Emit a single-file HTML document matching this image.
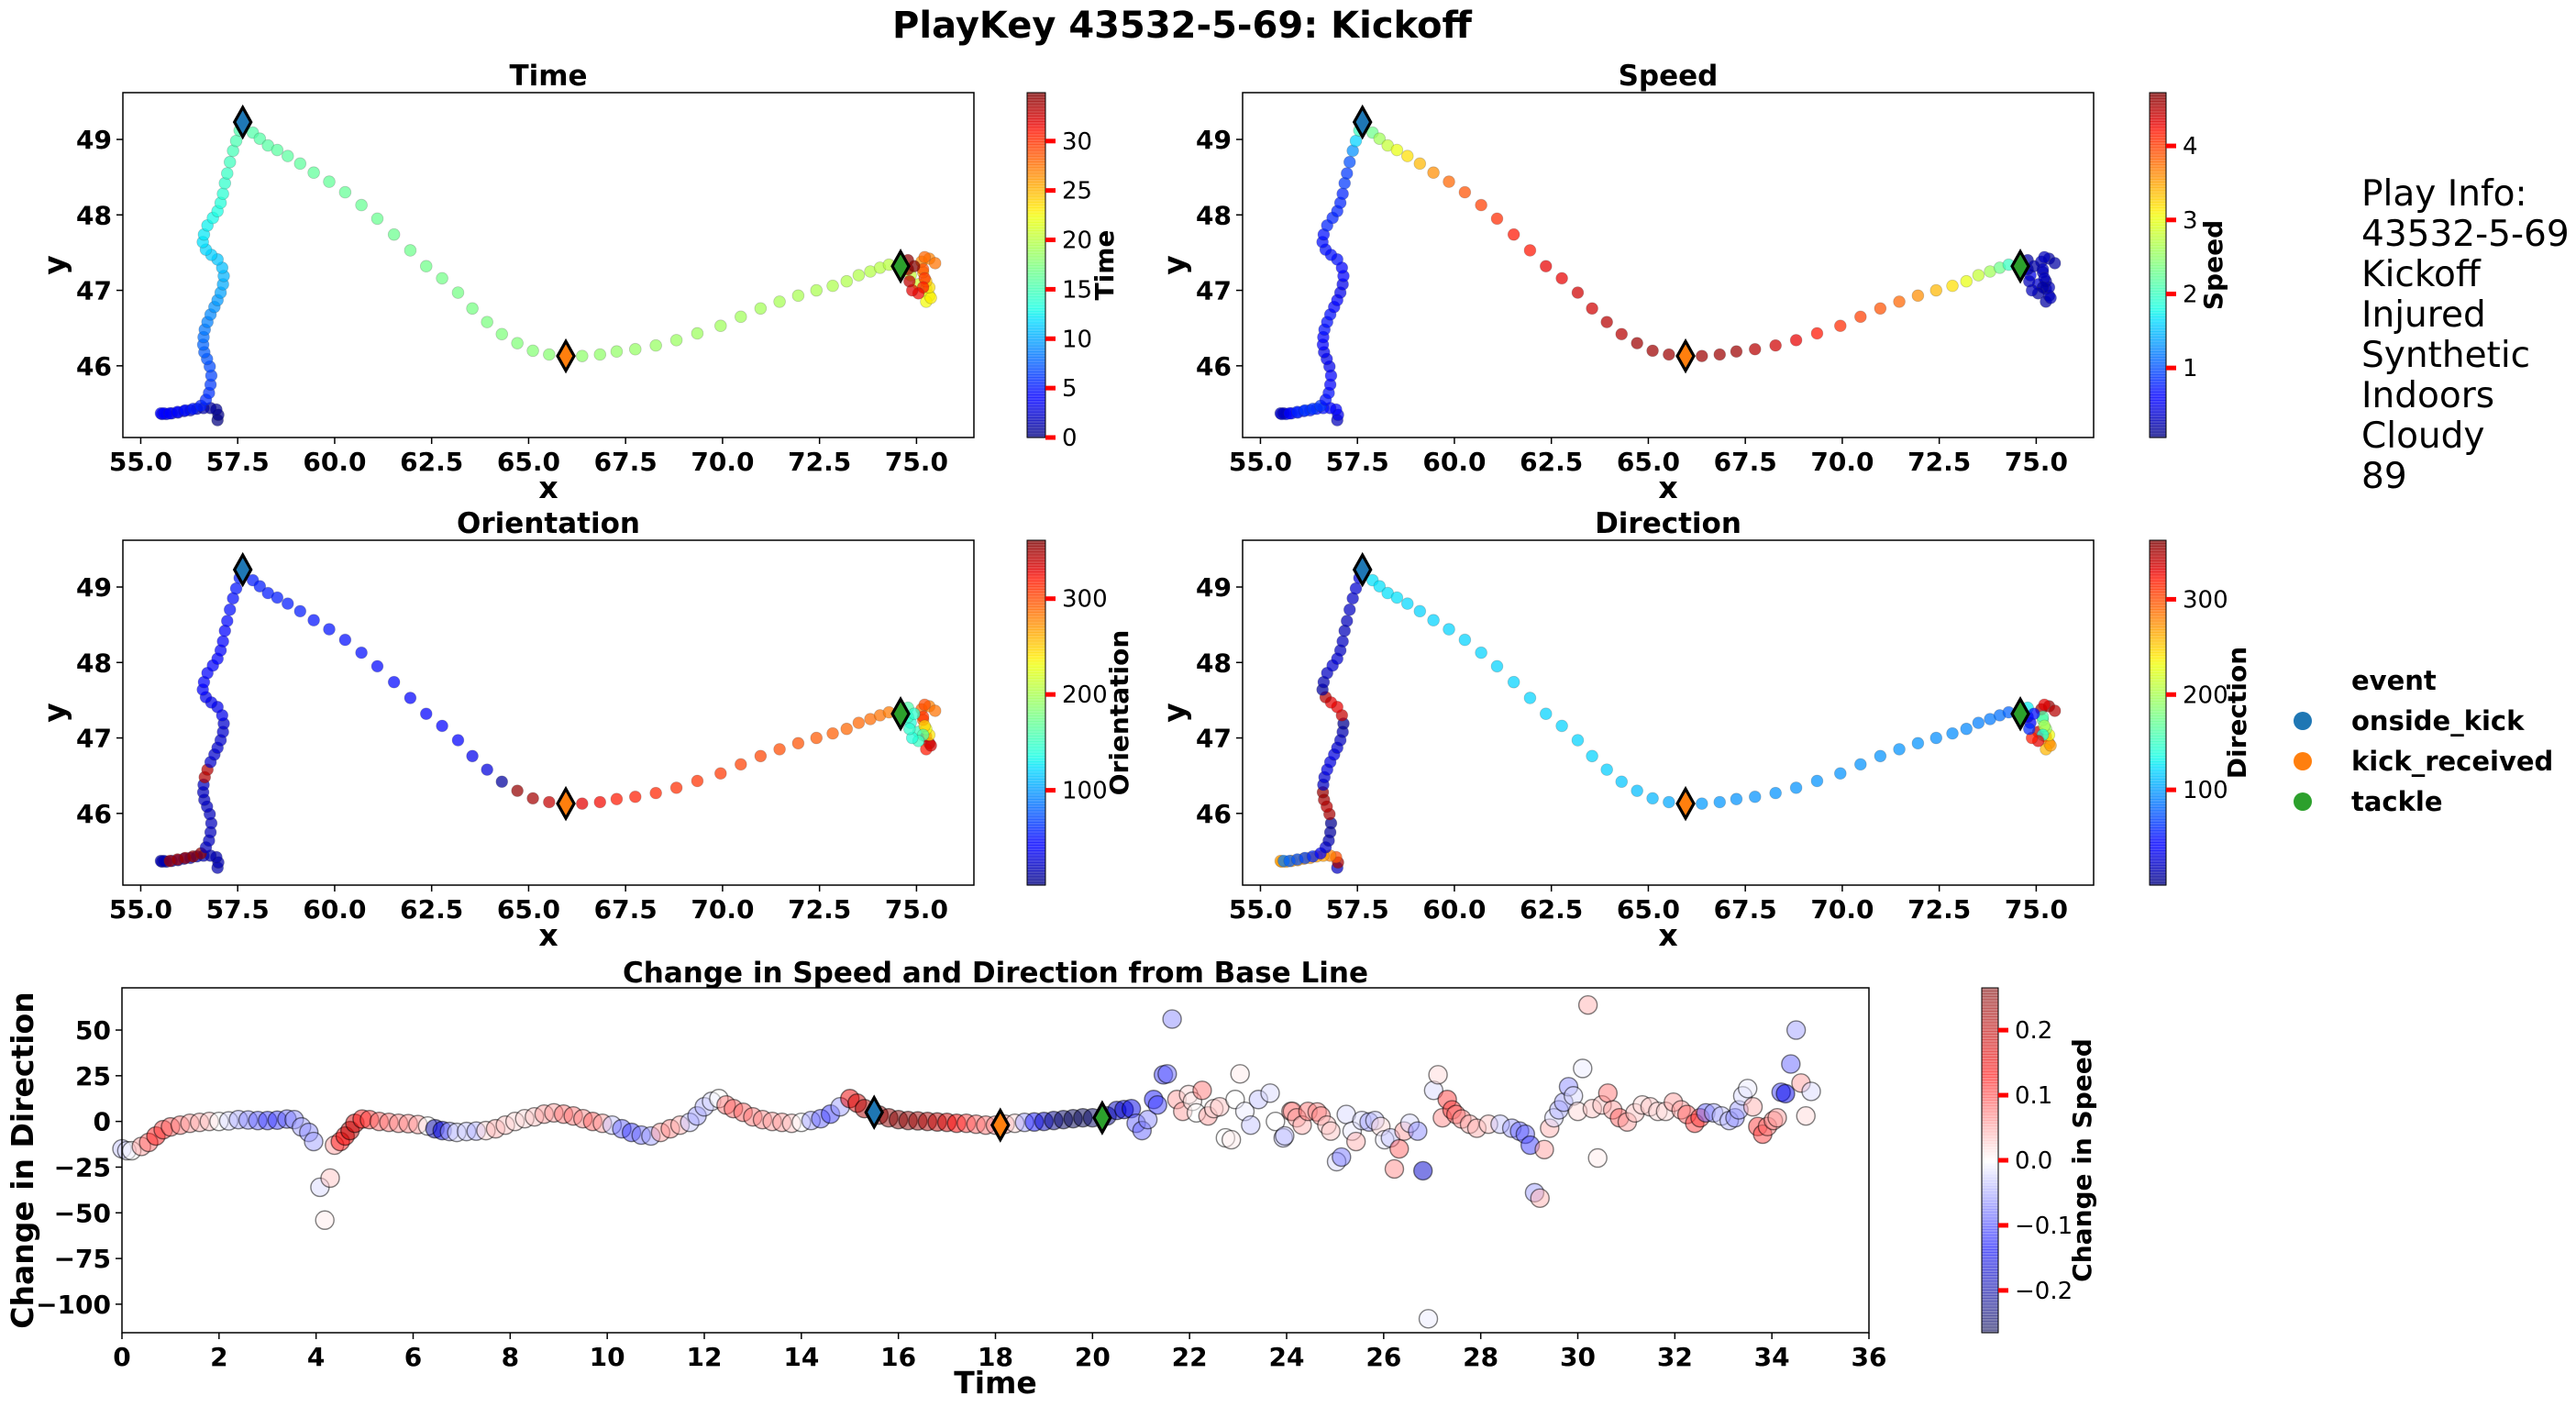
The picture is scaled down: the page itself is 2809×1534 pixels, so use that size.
<!DOCTYPE html>
<html><head><meta charset="utf-8"><style>
html,body{margin:0;padding:0;background:#fff;}
svg{display:block;font-family:"DejaVu Sans","Liberation Sans",sans-serif;}
</style></head><body>
<svg id="fig" width="2809" height="1534" viewBox="0 0 2809 1534" xmlns="http://www.w3.org/2000/svg"></svg>
<script>
// ---- trajectory data (segments: slow wavy path, sparse run, final cluster) ----
const trackX=[56.98,57.00,56.95,56.80,56.62,56.45,56.28,56.12,55.96,55.80,55.66,55.55,55.52,55.60,55.75,55.95,56.15,56.35,56.55,56.68,56.76,56.80,56.82,56.78,56.71,56.64,56.61,56.62,56.65,56.72,56.80,56.90,56.98,57.06,57.12,57.14,57.10,56.98,56.82,56.68,56.60,56.63,56.72,56.86,56.98,57.06,57.12,57.17,57.23,57.30,57.38,57.46,57.55,
57.89,58.07,58.28,58.52,58.79,59.11,59.46,59.86,60.27,60.69,61.10,61.53,61.95,62.36,62.77,63.18,63.55,63.93,64.31,64.71,65.11,65.53,66.38,66.84,67.27,67.75,68.28,68.81,69.35,69.95,70.47,70.98,71.47,71.95,72.42,72.84,73.20,73.51,73.81,74.06,74.29,
74.85,75.05,75.25,75.33,75.25,75.37,75.33,75.25,75.17,75.13,75.33,75.48,75.21,75.17,75.21,75.17,75.05,74.89,74.82,74.78,74.78,74.94];
const trackY=[45.28,45.35,45.42,45.44,45.44,45.43,45.41,45.40,45.38,45.37,45.36,45.36,45.37,45.37,45.37,45.39,45.41,45.43,45.47,45.55,45.64,45.75,45.87,45.99,46.09,46.18,46.28,46.38,46.48,46.58,46.68,46.78,46.87,46.97,47.08,47.19,47.30,47.41,47.47,47.54,47.64,47.74,47.86,47.96,48.05,48.16,48.28,48.42,48.55,48.70,48.85,48.98,49.12,
49.09,49.01,48.92,48.86,48.78,48.68,48.56,48.44,48.30,48.13,47.95,47.74,47.53,47.32,47.16,46.97,46.76,46.58,46.42,46.30,46.20,46.15,46.13,46.15,46.19,46.22,46.27,46.34,46.43,46.53,46.65,46.76,46.85,46.93,47.00,47.06,47.12,47.20,47.25,47.30,47.34,
47.20,47.08,47.02,46.93,46.85,46.90,47.04,47.12,47.24,47.38,47.42,47.36,47.44,47.28,47.16,47.04,46.96,47.00,47.12,47.28,47.40,47.32];
const trackTime=[0,0.3,0.6,0.9,1.2,1.5,1.8,2.1,2.4,2.7,3.0,3.3,3.6,3.9,4.2,4.5,4.8,5.1,5.4,5.7,6.0,6.3,6.6,6.9,7.2,7.5,7.8,8.1,8.4,8.7,9.0,9.3,9.6,9.9,10.2,10.5,10.8,11.1,11.4,11.7,12.0,12.3,12.6,12.9,13.2,13.5,13.8,14.1,14.4,14.7,15.0,15.2,15.4,
15.6,15.7,15.8,15.9,16.0,16.1,16.2,16.3,16.4,16.5,16.6,16.7,16.8,16.9,17.0,17.1,17.2,17.35,17.5,17.65,17.8,17.95,18.2,18.3,18.4,18.5,18.6,18.7,18.8,18.9,19.0,19.1,19.2,19.3,19.4,19.5,19.6,19.7,19.8,19.9,20.0,
20.5,21.0,21.5,22.0,22.5,23.0,23.5,24.5,25.5,26.5,27.0,27.5,28.0,29.0,30.0,31.0,31.5,32.0,33.0,34.0,34.5,34.9];
const trackSpeed=[0.3,0.5,0.6,0.6,0.7,0.7,0.7,0.7,0.7,0.7,0.7,0.7,0.3,0.3,0.6,0.8,0.9,0.9,0.9,0.7,0.7,0.6,0.6,0.5,0.5,0.5,0.6,0.6,0.7,0.7,0.7,0.6,0.6,0.5,0.5,0.6,0.6,0.7,0.7,0.7,0.7,0.7,0.8,0.8,0.8,0.8,0.8,0.9,0.9,1.0,1.3,1.6,2.0,
2.3,2.6,2.8,3.0,3.2,3.4,3.6,3.8,3.9,4.0,4.1,4.2,4.2,4.3,4.3,4.4,4.4,4.5,4.5,4.6,4.6,4.6,4.6,4.6,4.6,4.5,4.4,4.3,4.2,4.1,4.0,3.9,3.8,3.6,3.4,3.2,3.0,2.8,2.6,2.3,2.0,
0.5,0.4,0.3,0.3,0.2,0.3,0.3,0.2,0.3,0.3,0.2,0.2,0.3,0.3,0.3,0.2,0.2,0.3,0.3,0.2,0.2,0.2];
const trackOrient=[15,15,15,15,15,15,15,15,15,15,15,15,15,15,350,350,352,355,355,20,20,20,20,20,20,20,20,20,345,345,25,25,25,25,25,25,35,35,35,35,40,40,40,40,45,45,45,45,48,50,50,52,55,
55,55,55,55,55,55,52,52,50,50,48,48,45,45,42,40,35,30,10,355,350,340,330,325,320,318,315,312,310,308,305,303,300,298,295,293,290,290,288,285,283,
140,150,330,340,320,335,240,230,290,290,280,285,300,310,250,160,150,140,145,150,160,145];
const trackDir=[20,350,300,280,270,270,270,270,270,270,270,270,270,90,80,75,70,60,40,25,15,10,5,350,345,350,355,20,25,30,30,30,25,20,15,5,340,330,330,345,10,15,20,25,25,20,20,18,18,20,22,25,28,
125,125,125,125,122,120,120,120,120,120,120,120,120,120,120,120,120,118,115,112,110,105,100,98,97,97,97,97,97,97,97,97,97,97,95,95,93,90,88,85,80,
40,340,320,280,260,270,230,190,170,350,355,345,330,160,200,140,330,320,60,30,130,50];
// event markers
const eventNames=["onside_kick","kick_received","tackle"];
const eventX=[57.63,65.96,74.59];
const eventY=[49.23,46.13,47.32];
const eventTime=[15.5,18.1,20.2];
const eventChgDir=[5,-2,2];
const eventColors=["#1f77b4","#ff7f0e","#2ca02c"];
// tick labels
const xTicks=[55,57.5,60,62.5,65,67.5,70,72.5,75];
const yTicks=[46,47,48,49];
const timeCbTicks=[0,5,10,15,20,25,30];
const speedCbTicks=[1,2,3,4];
const angleCbTicks=[100,200,300];
const chgTimeTicks=[0,2,4,6,8,10,12,14,16,18,20,22,24,26,28,30,32,34,36];
const chgDirTicks=[-100,-75,-50,-25,0,25,50];
const chgSpeedTicks=[-0.2,-0.1,0,0.1,0.2];
// ---- change from base line data ----
const chgTime=[0,0.1,0.2,0.4,0.55,0.7,0.85,1.0,1.2,1.4,1.6,1.8,2.0,2.2,2.4,2.6,2.8,3.0,3.2,3.4,3.55,3.7,3.85,3.95,4.08,4.18,4.29,4.38,4.5,4.6,4.7,4.8,4.95,5.1,5.3,5.5,5.7,5.9,6.1,6.3,6.45,6.6,6.75,6.9,7.1,7.3,7.5,7.7,7.9,8.1,8.3,8.5,8.7,8.9,9.1,9.3,9.5,9.7,9.9,10.1,10.3,10.5,10.7,10.9,11.1,11.3,11.5,11.7,11.85,12.0,12.15,12.3,12.45,12.6,12.8,13.0,13.2,13.4,13.6,13.8,14.0,14.2,14.4,14.6,14.8,15.0,15.15,15.3,15.6,15.8,16.0,16.2,16.4,16.6,16.8,17.0,17.2,17.4,17.6,17.8,18.0,18.2,18.4,18.6,18.8,19.0,19.2,19.4,19.6,19.8,20.0,20.3,20.5,20.65,20.8,
20.9,21.02,21.14,21.26,21.34,21.46,21.54,21.64,21.74,21.86,21.98,22.06,22.14,22.26,22.38,22.5,22.62,22.74,22.86,22.94,23.04,23.14,23.26,23.42,23.66,23.77,23.93,23.96,24.09,24.12,24.21,24.32,24.44,24.63,24.71,24.83,24.91,25.03,25.13,25.23,25.35,25.43,25.55,25.7,25.82,25.94,26.02,26.14,26.22,26.32,26.42,26.54,26.7,26.81,26.92,27.03,27.12,27.21,27.31,27.41,27.49,27.61,27.77,27.92,28.16,28.4,28.64,28.8,28.92,29.02,29.11,29.22,29.31,29.42,29.51,29.61,29.71,29.81,29.91,30.0,30.1,30.21,30.3,30.41,30.5,30.62,30.72,30.86,31.02,31.18,31.33,31.49,31.65,31.81,31.97,32.13,32.25,32.41,32.52,32.64,32.8,32.96,33.12,33.24,33.32,33.4,33.5,33.61,33.71,33.81,33.91,34.03,34.11,34.19,34.28,34.39,34.5,34.6,34.7,34.81];
const chgDir=[-15,-16,-16,-13.7,-11.5,-8,-4.5,-3,-2,-1,-0.5,0,0,0.3,1,0.8,0.5,0.5,0.7,1.3,1,-3,-6,-11,-36,-54,-31,-13,-11,-8,-5,-1,1.3,1,0,-0.5,-1,-1.2,-1.7,-2.5,-4,-5,-5.5,-6,-5.5,-5.3,-5,-4,-2,0,1.5,2.5,4,4.7,4,3,1.5,0,-1,-2,-4,-6,-7.5,-8,-6,-4,-2,-0.5,3,8,11,12.5,9,7,5,2.5,1,0,-0.5,-1,-0.5,0.5,1.5,4,8,12.5,10,7,3.5,2,1,0.5,0.3,0,-0.3,-0.5,-1,-1,-1.5,-2,-2,-1.5,-1,-0.5,-0.3,0,0.5,1,1.5,2,2,3,6,6.5,7,
-1,-5,1,12,9,25.5,26,56,12,5.5,14.7,11,4.7,17,3,7,8,-9,-10,12,26,5.5,-2,12,15.5,0,-9,-7.9,5.5,5.5,2,-2,5.5,5.2,3,-2,-5.3,-22,-19.5,3.8,-5.3,-11,0.5,-0.3,0.5,-2.8,-10,-9,-26,-15,-5.3,-1,-5.3,-27,-108,17,25.5,2,12,6.3,3.8,1.3,-1.5,-3.7,-1.5,-1.5,-3.7,-5.3,-7,-13,-39,-42,-15.4,-3.7,2,6.3,10.5,19,14,5.5,29,63.7,7,-20,9,15.5,6.3,2,-0.3,4.7,9,8,5.5,5.5,10.5,6.3,3.8,-1,2,4.7,4.7,3,0.5,2,6.3,14,18,8,-2.8,-7,-2.8,0.5,2,16,15.2,31.4,50,21,3,16.4];
const chgSpeed=[-0.03,-0.02,0,0.05,0.08,0.12,0.1,0.08,0.07,0.05,0.04,0.03,0,-0.02,-0.04,-0.06,-0.08,-0.1,-0.1,-0.08,-0.06,-0.05,-0.06,-0.05,-0.02,0.01,0.03,0.05,0.12,0.15,0.2,0.18,0.12,0.1,0.08,0.07,0.06,0.06,0.05,0,-0.2,-0.15,-0.05,-0.02,-0.03,-0.04,0.02,0.04,0.03,0.02,0.02,0.03,0.05,0.05,0.07,0.07,0.06,0.08,0.05,-0.03,-0.08,-0.1,-0.07,-0.05,0.05,0.06,0.04,-0.03,-0.05,-0.04,-0.02,0,0.07,0.08,0.08,0.07,0.06,0.05,0.05,0.03,0,-0.05,-0.08,-0.1,-0.05,0.15,0.18,0.22,0.25,0.25,0.26,0.25,0.24,0.22,0.2,0.18,0.14,0.1,0.08,0.07,0.06,0.05,0.02,-0.05,-0.12,-0.18,-0.22,-0.25,-0.26,-0.26,-0.25,-0.22,-0.18,-0.17,-0.15,
-0.08,-0.08,-0.06,-0.12,-0.1,-0.1,-0.08,-0.06,0.05,0.05,0.02,0.01,0,0.07,0.05,0.02,0.03,0,0.01,0,0.01,-0.01,-0.03,-0.03,-0.02,0,-0.03,-0.03,0.05,0.06,0.05,0.04,0.07,0.06,0.06,0.03,0.03,-0.02,-0.07,-0.02,-0.01,0.04,-0.02,-0.05,-0.03,0.02,-0.01,-0.03,0.06,0.08,0.05,-0.02,-0.06,-0.17,-0.01,-0.02,0.02,0.06,0.1,0.1,0.08,0.06,0.04,0.04,0.03,-0.03,-0.05,-0.08,-0.08,-0.1,-0.05,0.04,0.05,0.04,-0.02,-0.04,-0.05,-0.06,-0.02,0.02,-0.01,0.04,0.03,0.01,0.03,0.07,0.05,0.08,0.05,0.03,0.02,0.03,0.02,0.02,0.05,0.05,0.08,0.1,0.1,-0.08,-0.05,-0.03,-0.04,-0.06,-0.05,-0.02,-0.01,0.04,0.1,0.1,0.07,0.06,0.05,-0.1,-0.15,-0.08,-0.05,0.05,0.02,-0.02];
const playInfo=["Play Info:","43532-5-69","Kickoff","Injured","Synthetic","Indoors","Cloudy","89"];

const NS="http://www.w3.org/2000/svg";
const svg=document.getElementById('fig');
function mk(tag,attrs,parent){const e=document.createElementNS(NS,tag);for(const k in attrs)e.setAttribute(k,attrs[k]);(parent||svg).appendChild(e);return e;}
function txt(s,attrs,parent){const e=mk('text',attrs,parent);e.textContent=s;return e;}
function lerp(xs,ys,v){if(v<=xs[0])return ys[0];for(let i=1;i<xs.length;i++){if(v<=xs[i]){const f=(v-xs[i-1])/(xs[i]-xs[i-1]);return ys[i-1]+f*(ys[i]-ys[i-1]);}}return ys[ys.length-1];}
function jet(f){f=Math.max(0,Math.min(1,f));
 const r=lerp([0,0.35,0.66,0.89,1],[0,0,1,1,0.5],f);
 const g=lerp([0,0.125,0.375,0.64,0.91,1],[0,0,1,1,0,0],f);
 const b=lerp([0,0.11,0.34,0.65,1],[0.5,1,1,0,0],f);
 return `rgb(${Math.round(r*255)},${Math.round(g*255)},${Math.round(b*255)})`;}
function seismic(f){f=Math.max(0,Math.min(1,f));
 const r=lerp([0,0.25,0.5,0.75,1],[0,0,1,1,0.5],f);
 const g=lerp([0,0.25,0.5,0.75,1],[0,0,1,0,0],f);
 const b=lerp([0,0.25,0.5,0.75,1],[0.3,1,1,0,0],f);
 return `rgb(${Math.round(r*255)},${Math.round(g*255)},${Math.round(b*255)})`;}
function fmt(v){return (v<0?'\u2212':'')+Math.abs(v).toString();}
function fmt1(v){return (v<0?'\u2212':'')+Math.abs(v).toFixed(1);}
function diamond(cx,cy,color,parent,name){
 const p=mk('polygon',{points:`${cx},${cy-16} ${cx+9},${cy} ${cx},${cy+16} ${cx-9},${cy}`,fill:color,stroke:'#000','stroke-width':3.2,'stroke-linejoin':'miter'},parent);
 
 
}
function colorbar(x0,x1,y0,y1,vmin,vmax,ticks,cmap,alpha,label,labelX,key,tickFmt){
 const g=mk('g',{});
 
 
 const n=120,h=(y1-y0)/n;
 for(let i=0;i<n;i++){mk('rect',{x:x0,y:y1-(i+1)*h,width:x1-x0,height:h+0.6,fill:cmap((i+0.5)/n),'fill-opacity':alpha},g);}
 mk('rect',{x:x0,y:y0,width:x1-x0,height:y1-y0,fill:'none',stroke:'#000','stroke-width':1},g);
 ticks.forEach(v=>{const y=y1-(v-vmin)/(vmax-vmin)*(y1-y0);
  const t=mk('rect',{x:x1,y:y-2.5,width:11,height:5,fill:'#ff0000'},g);
  
  
  const l=txt(tickFmt?tickFmt(v):String(v),{x:x1+18,y:y+9,'font-size':26,fill:'#000'},g);
  
  });
 const cy=(y0+y1)/2;
 const lb=txt(label,{x:labelX,y:cy,'font-size':28,'font-weight':'bold','text-anchor':'middle',transform:`rotate(-90 ${labelX} ${cy})`},g);
 
 
}

// main title
const mt=txt('PlayKey 43532-5-69: Kickoff',{x:1289,y:41,'font-size':40,'font-weight':'bold','text-anchor':'middle'});



const XMIN=54.54,XMAX=76.48,YMIN=45.05,YMAX=49.62;
const panels=[
 {key:'time',title:'Time',vals:trackTime,vmin:0,vmax:34.9,x0:134,x1:1062,y0:101,y1:477,cb0:1120,cb1:1140,ticks:timeCbTicks,label:'Time',labelX:1214},
 {key:'speed',title:'Speed',vals:trackSpeed,vmin:0.06,vmax:4.72,x0:1355,x1:2283,y0:101,y1:477,cb0:2344,cb1:2362,ticks:speedCbTicks,label:'Speed',labelX:2423},
 {key:'orientation',title:'Orientation',vals:trackOrient,vmin:1,vmax:361,x0:134,x1:1062,y0:589,y1:965,cb0:1120,cb1:1140,ticks:angleCbTicks,label:'Orientation',labelX:1230},
 {key:'direction',title:'Direction',vals:trackDir,vmin:0,vmax:362,x0:1355,x1:2283,y0:589,y1:965,cb0:2344,cb1:2362,ticks:angleCbTicks,label:'Direction',labelX:2449}
];
panels.forEach(P=>{
 const g=mk('g',{});
 
 
 const sx=v=>P.x0+(v-XMIN)/(XMAX-XMIN)*(P.x1-P.x0);
 const sy=v=>P.y1-(v-YMIN)/(YMAX-YMIN)*(P.y1-P.y0);
 const t=txt(P.title,{x:(P.x0+P.x1)/2,y:P.y0-8,'font-size':31,'font-weight':'bold','text-anchor':'middle'},g);
 
 
 for(let i=0;i<trackX.length;i++){
  const c=mk('circle',{cx:sx(trackX[i]),cy:sy(trackY[i]),r:6.4,fill:jet((P.vals[i]-P.vmin)/(P.vmax-P.vmin)),'fill-opacity':0.72,stroke:'rgba(60,60,60,0.25)','stroke-width':0.8},g);
  
  
 }
 for(let k=0;k<eventX.length;k++){diamond(sx(eventX[k]),sy(eventY[k]),eventColors[k],g,eventNames[k]+'-marker');}
 const fr=mk('rect',{x:P.x0,y:P.y0,width:P.x1-P.x0,height:P.y1-P.y0,fill:'none',stroke:'#000','stroke-width':1.5},g);
 
 
 xTicks.forEach(v=>{const x=sx(v);mk('line',{x1:x,x2:x,y1:P.y1,y2:P.y1+7,stroke:'#000','stroke-width':1.5},g);
  const l=txt(v.toFixed(1),{x:x,y:P.y1+36,'font-size':28,'font-weight':'bold','text-anchor':'middle'},g);
  
  });
 yTicks.forEach(v=>{const y=sy(v);mk('line',{x1:P.x0-7,x2:P.x0,y1:y,y2:y,stroke:'#000','stroke-width':1.5},g);
  const l=txt(String(v),{x:P.x0-12,y:y+10,'font-size':28,'font-weight':'bold','text-anchor':'end'},g);
  
  });
 const xl=txt('x',{x:(P.x0+P.x1)/2,y:P.y1+66,'font-size':33,'font-weight':'bold','text-anchor':'middle'},g);
 
 
 const yc=(P.y0+P.y1)/2,yx=P.x0-63;
 const yl=txt('y',{x:yx,y:yc,'font-size':33,'font-weight':'bold','text-anchor':'middle',transform:`rotate(-90 ${yx} ${yc})`},g);
 
 
 colorbar(P.cb0,P.cb1,P.y0,P.y1,P.vmin,P.vmax,P.ticks,jet,0.72,P.label,P.labelX,P.key);
});

// play info
playInfo.forEach((s,i)=>{const e=txt(s,{x:2575,y:224+i*44,'font-size':39});
 
 });
// legend
const lg=mk('g',{});


const lt=txt('event',{x:2564,y:752,'font-size':29,'font-weight':'bold'},lg);


eventNames.forEach((n,i)=>{const y=786+i*44;
 const c=mk('circle',{cx:2511,cy:y,r:10,fill:eventColors[i]},lg);
 
 
 const l=txt(n,{x:2564,y:y+10,'font-size':29,'font-weight':'bold'},lg);
 
 });

// bottom chart
(function(){
 const X0=133,X1=2038,Y0=1077,Y1=1453,TMIN=0,TMAX=36,DMIN=-115.6,DMAX=73.1,SMAX=0.265;
 const g=mk('g',{});
 
 
 const sx=v=>X0+(v-TMIN)/(TMAX-TMIN)*(X1-X0);
 const sy=v=>Y1-(v-DMIN)/(DMAX-DMIN)*(Y1-Y0);
 const t=txt('Change in Speed and Direction from Base Line',{x:(X0+X1)/2,y:Y0-6,'font-size':31,'font-weight':'bold','text-anchor':'middle'},g);
 
 
 for(let i=0;i<chgTime.length;i++){
  const c=mk('circle',{cx:sx(chgTime[i]),cy:sy(chgDir[i]),r:10,fill:seismic((chgSpeed[i]+SMAX)/(2*SMAX)),'fill-opacity':0.5,stroke:'rgba(0,0,0,0.5)','stroke-width':1.4},g);
  
  
 }
 for(let k=0;k<eventTime.length;k++){diamond(sx(eventTime[k]),sy(eventChgDir[k]),eventColors[k],g,eventNames[k]+'-change-marker');}
 const fr=mk('rect',{x:X0,y:Y0,width:X1-X0,height:Y1-Y0,fill:'none',stroke:'#000','stroke-width':1.5},g);
 
 
 chgTimeTicks.forEach(v=>{const x=sx(v);mk('line',{x1:x,x2:x,y1:Y1,y2:Y1+7,stroke:'#000','stroke-width':1.5},g);
  const l=txt(String(v),{x:x,y:Y1+36,'font-size':28,'font-weight':'bold','text-anchor':'middle'},g);
  
  });
 chgDirTicks.forEach(v=>{const y=sy(v);mk('line',{x1:X0-7,x2:X0,y1:y,y2:y,stroke:'#000','stroke-width':1.5},g);
  const l=txt(fmt(v),{x:X0-12,y:y+10,'font-size':28,'font-weight':'bold','text-anchor':'end'},g);
  
  });
 const xl=txt('Time',{x:(X0+X1)/2,y:Y1+66,'font-size':33,'font-weight':'bold','text-anchor':'middle'},g);
 
 
 const yc=(Y0+Y1)/2,yx=36;
 const yl=txt('Change in Direction',{x:yx,y:yc,'font-size':33,'font-weight':'bold','text-anchor':'middle',transform:`rotate(-90 ${yx} ${yc})`},g);
 
 
 colorbar(2161,2179,Y0,Y1,-SMAX,SMAX,chgSpeedTicks,seismic,0.5,'Change in Speed',2280,'change-speed',fmt1);
})();
</script>
</body></html>
